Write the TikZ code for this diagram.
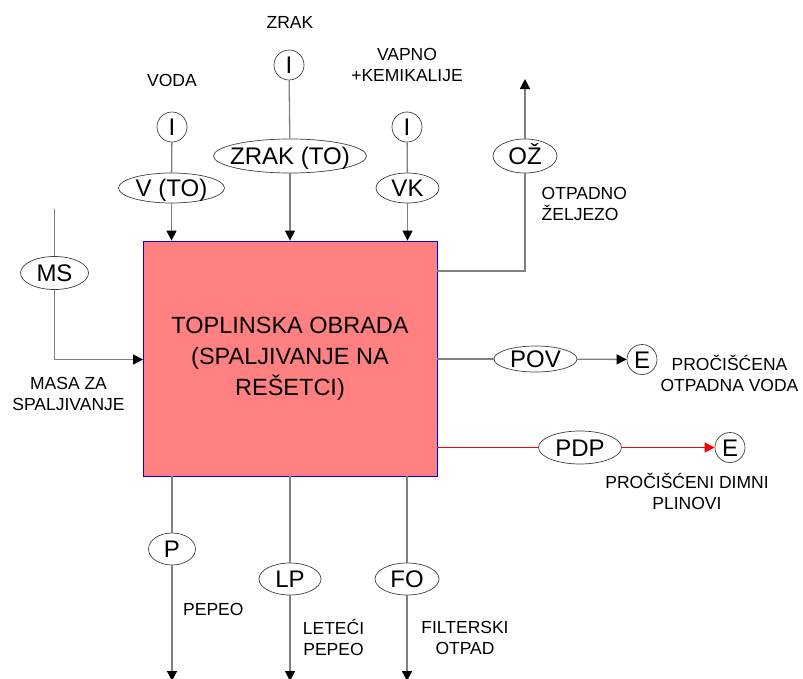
\documentclass[tikz,border=0pt]{standalone}
\usepackage{fontspec}
\setmainfont{Liberation Sans}
\usetikzlibrary{arrows.meta,shapes.geometric}
\definecolor{boxfill}{HTML}{FF8080}
\definecolor{flowgray}{HTML}{808080}
\newcommand{\ovtxt}[1]{\raisebox{-8.6pt}[0pt][0pt]{\makebox[0pt]{#1}}}
\begin{document}
\begin{tikzpicture}[x=1pt,y=-1pt,
  flow/.style={draw=flowgray,line width=1.3pt},
  arr/.style={-{Triangle[length=10pt,width=10pt,color=black]}},
  redarr/.style={-{Triangle[length=10pt,width=10pt,color=red]}},
  oval/.style={ellipse,draw=black!75,line width=0.7pt,fill=white,inner sep=0pt,font=\fontsize{24}{28}\selectfont},
  circ/.style={circle,draw=black!75,line width=0.7pt,fill=white,inner sep=0pt,minimum size=30pt,font=\fontsize{24}{28}\selectfont},
  lbl/.style={align=center,inner sep=0pt,font=\fontsize{17.5}{21}\selectfont},
  lbll/.style={align=left,inner sep=0pt,font=\fontsize{17.5}{21}\selectfont}]
\useasboundingbox (0,0) rectangle (803,678);
% main box
\node[draw=blue,line width=0.8pt,fill=boxfill,minimum width=294pt,minimum height=235pt,inner sep=0pt,
  align=center,font=\fontsize{23.5}{31}\selectfont] (box) at (290,358.5)
  {TOPLINSKA OBRADA\\(SPALJIVANJE NA\\REŠETCI)};
% inputs top
\node[circ] (i1) at (172,127) {\ovtxt{I}};
\node[oval,minimum width=106pt,minimum height=30pt] (vto) at (171.5,188) {\ovtxt{V (TO)}};
\node[lbl] (lvoda) at (172,80) {VODA};
\node[circ] (i2) at (289,65) {\ovtxt{I}};
\node[oval,minimum width=153pt,minimum height=34pt] (zto) at (290,156) {\ovtxt{ZRAK (TO)}};
\node[lbl] (lzrak) at (290,22) {ZRAK};
\node[circ] (i3) at (407,127) {\ovtxt{I}};
\node[oval,minimum width=63pt,minimum height=30pt] (vk) at (407.5,188) {\ovtxt{VK}};
\node[lbl] (lvk) at (407,64.5) {VAPNO\\+KEMIKALIJE};
\draw[flow] (i1) -- (vto);
\draw[flow,arr] (vto) -- (vto |- box.north);
\draw[flow] (i2) -- (zto);
\draw[flow,arr] (zto) -- (zto |- box.north);
\draw[flow] (i3) -- (vk);
\draw[flow,arr] (vk) -- (vk |- box.north);
% MS input
\coordinate (mstop) at (54.5,209);
\coordinate (msin) at (143,359.5);
\node[oval,minimum width=68pt,minimum height=33pt] (ms) at (54.5,273) {\ovtxt{MS}};
\node[lbl] (lms) at (68.5,393.5) {MASA ZA\\SPALJIVANJE};
\draw[flow] (mstop) -- (ms);
\draw[flow,arr] (ms) |- (msin);
% OZ output
\coordinate (ozin) at (437,271);
\coordinate (oztop) at (525,79);
\node[oval,minimum width=64pt,minimum height=34pt] (oz) at (525,156) {\ovtxt{OŽ}};
\node[lbll,anchor=west] (loz) at (541.5,203.5) {OTPADNO\\ŽELJEZO};
\draw[flow] (ozin) -| (oz);
\draw[flow,arr] (oz) -- (oztop);
% POV output
\node[oval,minimum width=83pt,minimum height=26pt] (pov) at (535.5,359) {\ovtxt{POV}};
\node[circ] (e1) at (642,359.5) {\ovtxt{E}};
\node[lbl] (lpov) at (729.5,373) {PROČIŠĆENA\\OTPADNA VODA};
\draw[flow] (box.east |- pov) -- (pov);
\draw[flow,arr] (pov) -- (e1);
% PDP output
\node[oval,minimum width=83pt,minimum height=33pt] (pdp) at (580,447.5) {\ovtxt{PDP}};
\node[circ] (e2) at (730,447.5) {\ovtxt{E}};
\node[lbl] (lpdp) at (687,491) {PROČIŠĆENI DIMNI\\PLINOVI};
\draw[red,line width=0.8pt] (box.east |- pdp) -- (pdp);
\draw[red,line width=0.8pt,redarr] (pdp) -- (e2);
% bottom outputs
\node[oval,minimum width=47pt,minimum height=32pt] (p) at (172,549) {\ovtxt{P}};
\node[oval,minimum width=62pt,minimum height=32pt] (lp) at (290,579) {\ovtxt{LP}};
\node[oval,minimum width=64pt,minimum height=32pt] (fo) at (407,579) {\ovtxt{FO}};
\coordinate (pend) at (172,681);
\coordinate (lpend) at (290,681);
\coordinate (foend) at (407,681);
\node[lbll,anchor=west] (lpep) at (183,609.5) {PEPEO};
\node[lbl] (llp) at (333.5,637.5) {LETEĆI\\PEPEO};
\node[lbl] (lfo) at (465,637.5) {FILTERSKI\\OTPAD};
\draw[flow] (box.south -| p) -- (p);
\draw[flow,arr] (p) -- (pend);
\draw[flow] (box.south -| lp) -- (lp);
\draw[flow,arr] (lp) -- (lpend);
\draw[flow] (box.south -| fo) -- (fo);
\draw[flow,arr] (fo) -- (foend);
\end{tikzpicture}
\end{document}
